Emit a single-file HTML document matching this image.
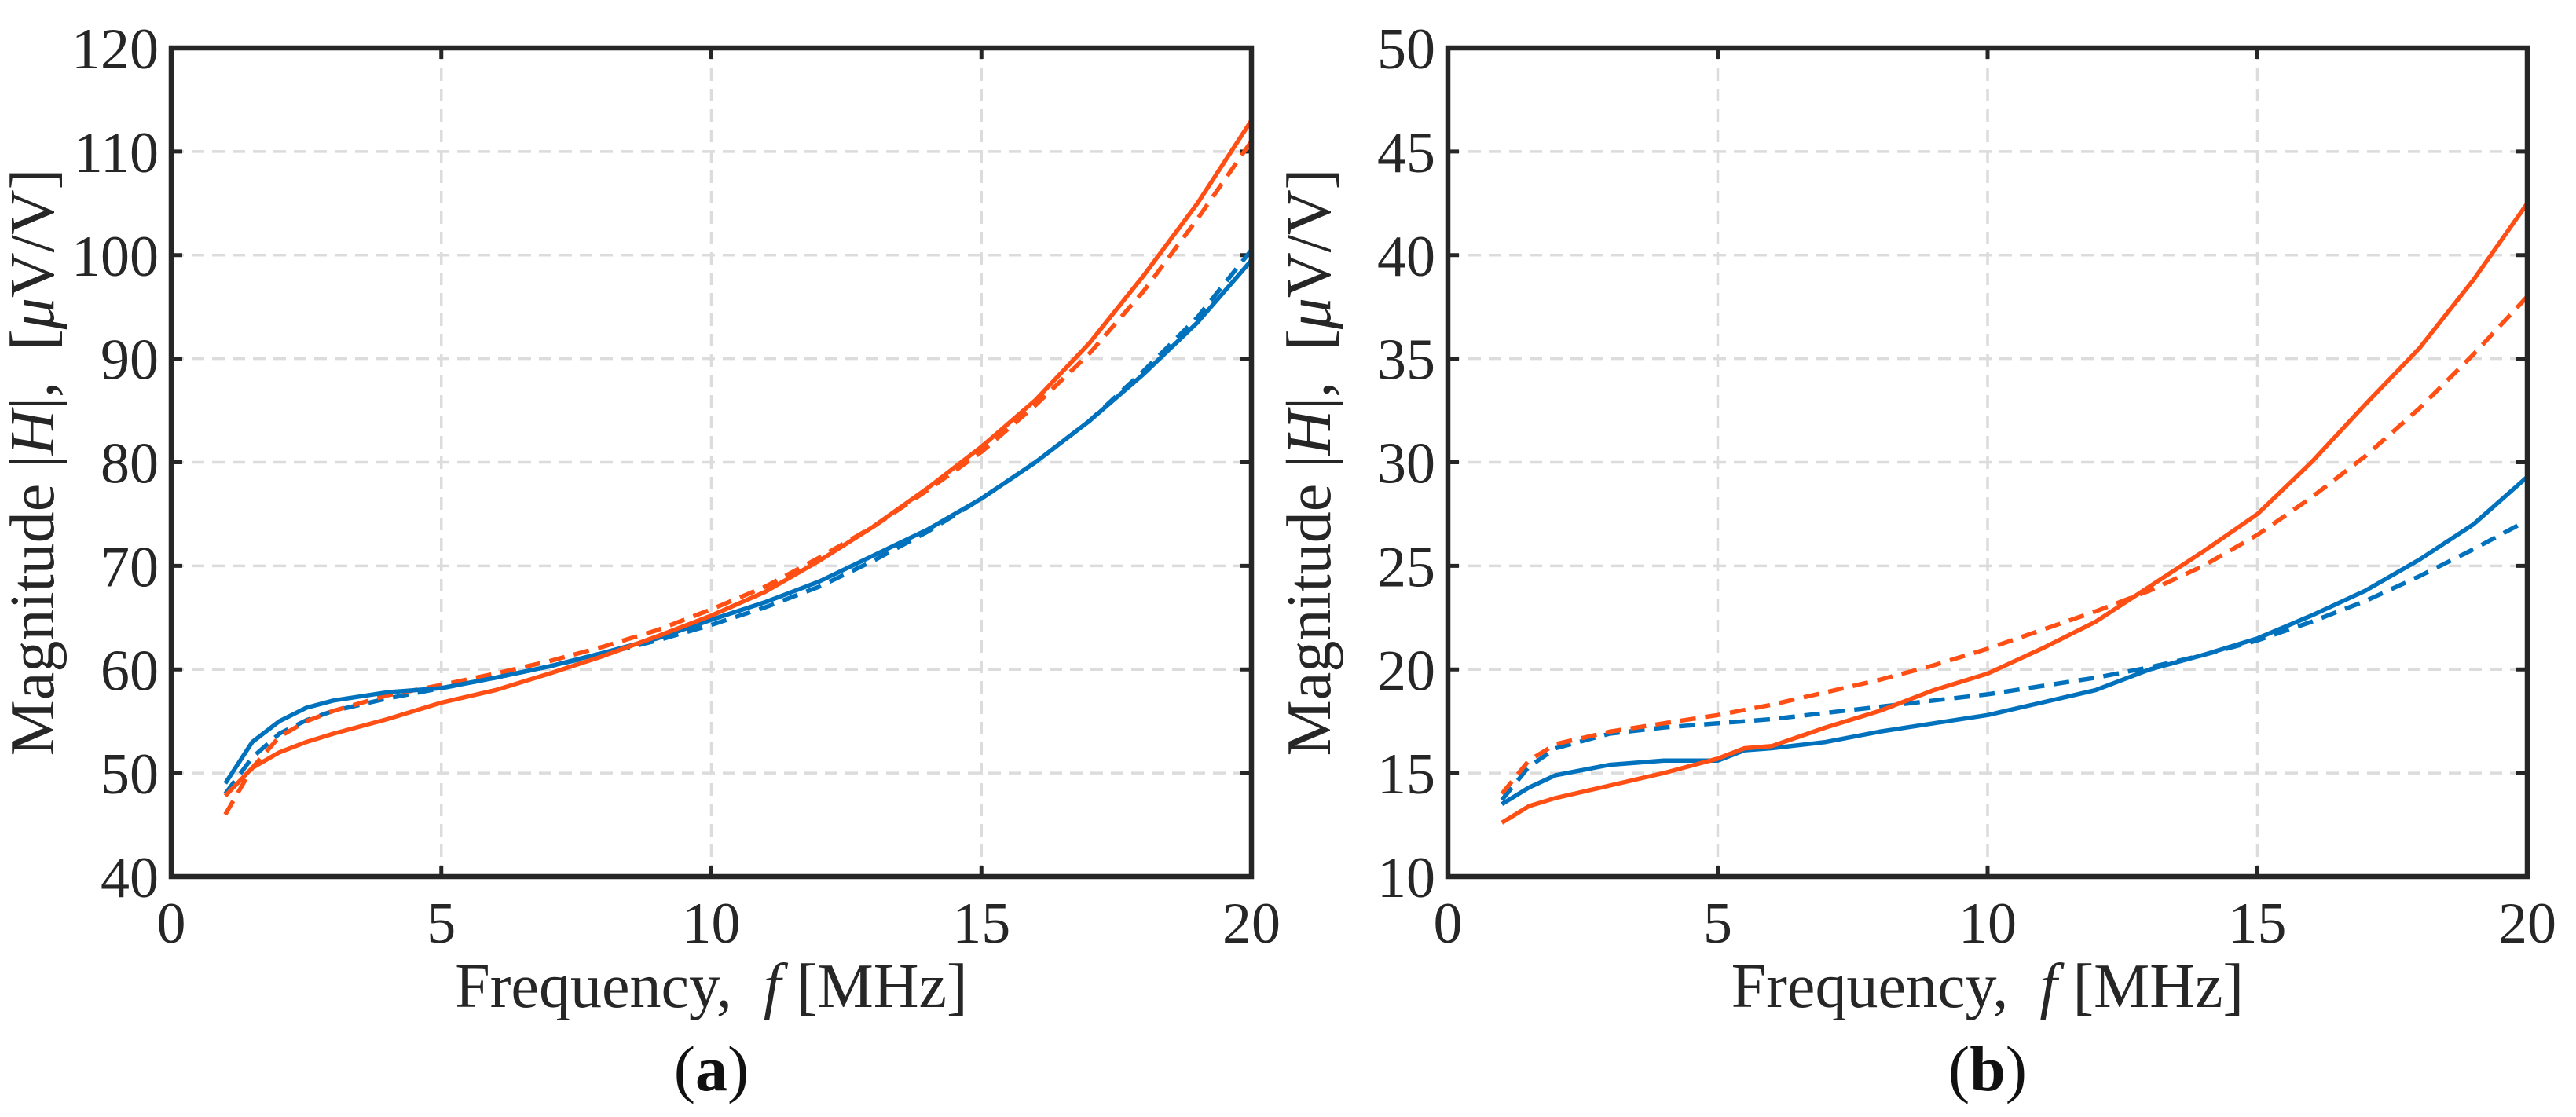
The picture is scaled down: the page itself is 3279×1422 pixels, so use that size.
<!DOCTYPE html>
<html><head><meta charset="utf-8"><style>
html,body{margin:0;padding:0;background:#fff;}
svg{display:block;font-family:"Liberation Serif",serif;}
</style></head>
<body>
<svg id="fig" width="3279" height="1422" viewBox="0 0 3279 1422" xmlns="http://www.w3.org/2000/svg"></svg>
<script>
const xTicks=[0,5,10,15,20];
const aYTicks=[40,50,60,70,80,90,100,110,120];
const bYTicks=[10,15,20,25,30,35,40,45,50];
const aFreq=[1,1.5,2,2.5,3,4,5,6,7,8,9,10,11,12,13,14,15,16,17,18,19,20];
const aBlueSolid=[49,53,55,56.3,57,57.8,58.2,59.2,60.3,61.6,63,64.8,66.5,68.5,71,73.5,76.5,80,84,88.5,93.5,99.5];
const aBlueDash=[48,51.5,53.8,55.1,56,57.2,58.2,59.2,60.3,61.5,62.8,64.3,66,68,70.5,73.3,76.5,80,84,88.8,94,100.5];
const aOrangeSolid=[47.8,50.5,52,53,53.8,55.2,56.8,58,59.6,61.3,63.2,65.2,67.5,70.5,73.8,77.5,81.5,86,91.5,98,105,113];
const aOrangeDash=[46,50.5,53.5,55,56,57.5,58.5,59.6,60.8,62.2,63.8,65.8,68,70.8,73.8,77.3,81,85.5,90.5,96.5,103.5,111];
const bFreq=[1,1.5,2,3,4,5,5.5,6,7,8,9,10,11,12,13,14,15,16,17,18,19,20];
const bBlueSolid=[13.5,14.3,14.9,15.4,15.6,15.6,16.1,16.2,16.5,17,17.4,17.8,18.4,19,20,20.7,21.5,22.6,23.8,25.3,27,29.3];
const bBlueDash=[13.7,15.3,16.2,16.9,17.2,17.4,17.5,17.6,17.9,18.2,18.5,18.8,19.2,19.6,20.1,20.7,21.4,22.3,23.3,24.5,25.8,27.2];
const bOrangeSolid=[12.6,13.4,13.8,14.4,15,15.7,16.2,16.3,17.2,18,19,19.8,21,22.3,24,25.7,27.5,30,32.8,35.5,38.8,42.5];
const bOrangeDash=[14,15.6,16.4,17,17.4,17.8,18.05,18.3,18.9,19.5,20.2,21,21.9,22.8,23.8,25,26.5,28.3,30.3,32.6,35.2,38];

const NS="http://www.w3.org/2000/svg";
const svg=document.getElementById('fig');
function mk(tag,attrs,parent){const e=document.createElementNS(NS,tag);for(const k in attrs)e.setAttribute(k,attrs[k]);(parent||svg).appendChild(e);return e;}
const BLUE="#0072BD",ORANGE="#FF4F14";
function panel(id,L,R,T,B,yTicks,freq,series,letter){
  const g=mk('g',{});
  
  
  const y0=yTicks[0],y1=yTicks[yTicks.length-1];
  const sx=v=>L+(v-xTicks[0])/(xTicks[xTicks.length-1]-xTicks[0])*(R-L);
  const sy=v=>B-(v-y0)/(y1-y0)*(B-T);
  xTicks.forEach(t=>{
    if(t!==xTicks[0]&&t!==xTicks[xTicks.length-1]){
      const l=mk('line',{x1:sx(t),x2:sx(t),y1:T,y2:B,stroke:"#dcdcdc","stroke-width":3.5,"stroke-dasharray":"16,10"},g);
      
      
    }
    const tx=mk('text',{x:sx(t),y:B+84,"font-size":74,"text-anchor":"middle",fill:"#262626"},g);
    tx.textContent=t;
    
    
    mk('line',{x1:sx(t),x2:sx(t),y1:B,y2:B-14,stroke:"#262626","stroke-width":5},g);
    mk('line',{x1:sx(t),x2:sx(t),y1:T,y2:T+14,stroke:"#262626","stroke-width":5},g);
  });
  yTicks.forEach(t=>{
    if(t!==y0&&t!==y1){
      const l=mk('line',{x1:L,x2:R,y1:sy(t),y2:sy(t),stroke:"#dcdcdc","stroke-width":3.5,"stroke-dasharray":"16,10"},g);
      
      
    }
    const tx=mk('text',{x:L-16,y:sy(t)+26,"font-size":74,"text-anchor":"end",fill:"#262626"},g);
    tx.textContent=t;
    
    
    mk('line',{x1:L,x2:L+14,y1:sy(t),y2:sy(t),stroke:"#262626","stroke-width":5},g);
    mk('line',{x1:R,x2:R-14,y1:sy(t),y2:sy(t),stroke:"#262626","stroke-width":5},g);
  });
  series.forEach(s=>{
    const pts=freq.map((f,i)=>sx(f).toFixed(1)+","+sy(s.vals[i]).toFixed(1)).join(" ");
    const p=mk('polyline',{points:pts,fill:"none",stroke:s.color,"stroke-width":5.5,"stroke-linejoin":"round","stroke-dasharray":s.dash?"20,12":"none"},g);
    
    
  });
  const box=mk('rect',{x:L,y:T,width:R-L,height:B-T,fill:"none",stroke:"#262626","stroke-width":6.5},g);
  
  
  const xl=mk('text',{x:(L+R)/2,y:B+166,"font-size":80,"text-anchor":"middle",fill:"#262626"},g);
  xl.innerHTML='Frequency,\u00a0\u00a0<tspan font-style="italic">f</tspan>\u00a0[MHz]';
  
  
  const yl=mk('text',{x:0,y:0,"font-size":80,"text-anchor":"middle",fill:"#262626",transform:`translate(${L-150},${(T+B)/2}) rotate(-90)`},g);
  yl.innerHTML='Magnitude\u00a0|<tspan font-style="italic">H</tspan>|,\u00a0\u00a0[<tspan font-style="italic">μ</tspan>V/V]';
  
  
  const lt=mk('text',{x:(L+R)/2,y:B+272,"font-size":82,"text-anchor":"middle",fill:"#111"},g);
  lt.innerHTML='(<tspan font-weight="bold">'+letter+'</tspan>)';
  
  
}
panel('a',218,1593,61,1116,aYTicks,aFreq,[
 {name:'blue-dashed-a',vals:aBlueDash,color:BLUE,dash:true},
 {name:'orange-dashed-a',vals:aOrangeDash,color:ORANGE,dash:true},
 {name:'blue-solid-a',vals:aBlueSolid,color:BLUE,dash:false},
 {name:'orange-solid-a',vals:aOrangeSolid,color:ORANGE,dash:false}],'a');
panel('b',1843,3217,61,1116,bYTicks,bFreq,[
 {name:'blue-dashed-b',vals:bBlueDash,color:BLUE,dash:true},
 {name:'orange-dashed-b',vals:bOrangeDash,color:ORANGE,dash:true},
 {name:'blue-solid-b',vals:bBlueSolid,color:BLUE,dash:false},
 {name:'orange-solid-b',vals:bOrangeSolid,color:ORANGE,dash:false}],'b');
</script>
</body></html>
